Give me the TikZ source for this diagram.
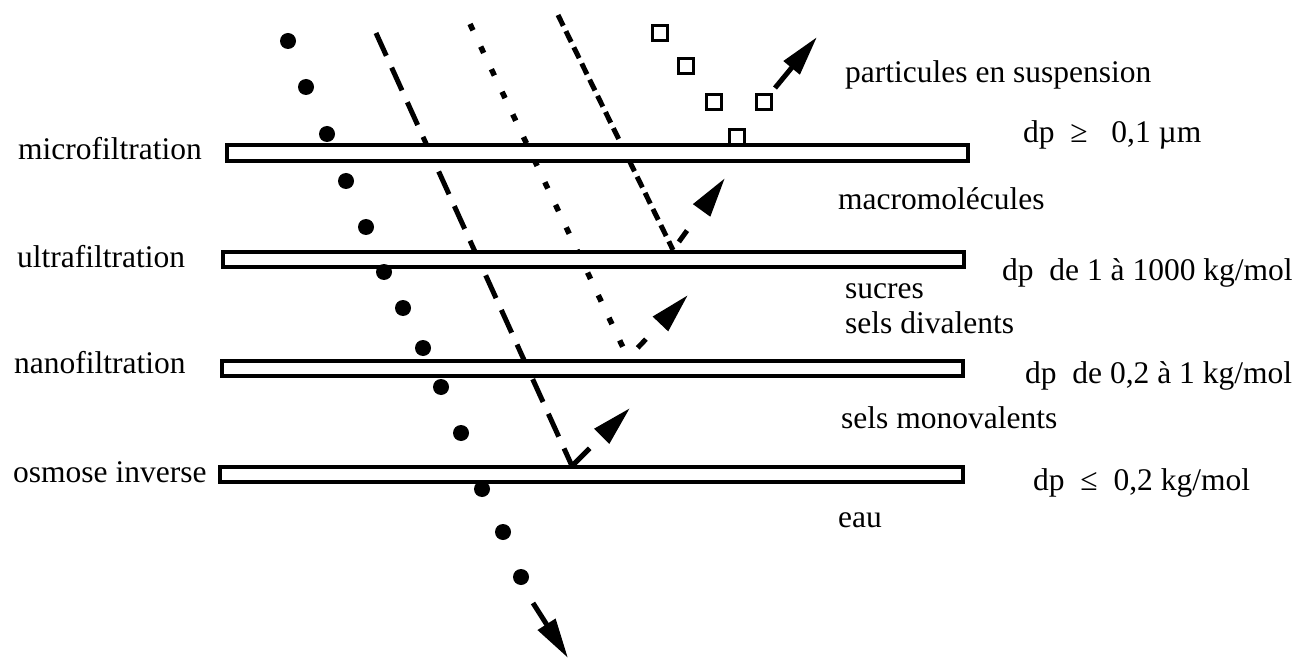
\documentclass[tikz,border=0pt]{standalone}
\usepackage{fontspec}
\setmainfont{Liberation Serif}
\usetikzlibrary{arrows.meta}
\newcommand{\lblfont}{\fontsize{31.5}{36}\selectfont}
\tikzset{
  membrane/.style={draw, line width=3.2pt, fill=white, inner sep=0pt, outer sep=0pt, anchor=north west},
  particle/.style={circle, fill=black, inner sep=0pt, minimum size=16pt},
  squarep/.style={draw, line width=3.4pt, fill=white, inner sep=0pt, minimum size=14.5pt},
  txt/.style={font=\lblfont, anchor=base west, inner sep=0pt},
  arrowhd/.style={-{Triangle[length=40pt,width=20pt]}},
  lineA/.style={line width=5pt, dash pattern=on 25pt off 13pt},
  lineB/.style={line width=5.5pt, dash pattern=on 7pt off 18pt},
  lineC/.style={line width=5pt, dash pattern=on 12pt off 6pt},
}
\begin{document}
\begin{tikzpicture}[x=1pt,y=-1pt]
\useasboundingbox (0,0) rectangle (1316,660);
% path coordinates
\coordinate (a0) at (376,33);  \coordinate (a1) at (572,466); \coordinate (a2) at (630,408);
\coordinate (b0) at (470,24);  \coordinate (b1) at (628,358); \coordinate (b2) at (688,295);
\coordinate (c0) at (558,15);  \coordinate (c1) at (673,250); \coordinate (c2) at (725,178);
\coordinate (t0) at (775,88);  \coordinate (t1) at (817,37);
\coordinate (p0) at (533,603); \coordinate (p1) at (568,658);
% descending lines
\draw[lineA] (a0) -- (a1);
\draw[lineB] (b0) -- (b1);
\draw[lineC] (c0) -- (c1);
% reflected arrows
\draw[line width=5pt, dash pattern=on 25pt off 40pt, arrowhd] (a1) -- (a2);
\draw[line width=5pt, dash pattern=on 0pt off 14pt on 12pt off 40pt, arrowhd] (b1) -- (b2);
\draw[line width=5pt, dash pattern=on 0pt off 10pt on 14pt off 40pt, arrowhd] (c1) -- (c2);
% membranes
\node[membrane, minimum width=741pt, minimum height=16pt] (micro) at (227,145) {};
\node[membrane, minimum width=741pt, minimum height=15pt] (ultra) at (223,252) {};
\node[membrane, minimum width=741pt, minimum height=15pt] (nano)  at (222,361) {};
\node[membrane, minimum width=743pt, minimum height=15pt] (osmo)  at (220,467) {};
% particles
\foreach \n/\x/\y in {1/288/41, 2/306/87, 3/327/134, 4/346/181, 5/366/227, 6/384/272, 7/403/308,
  8/423/348, 9/441/387, 10/461/433, 11/482/489, 12/503/532, 13/521/577}
  \node[particle] (d\n) at (\x,\y) {};
% squares
\node[squarep] (s1) at (660,33) {};
\node[squarep] (s2) at (686,66) {};
\node[squarep] (s3) at (714,102) {};
\node[squarep] (s4) at (764,102) {};
\node[squarep] (s5) at (737,137) {};
% solid arrows
\draw[line width=5pt, arrowhd] (t0) -- (t1);
\draw[line width=5pt, arrowhd] (p0) -- (p1);
% left labels
\node[txt] (lmicro) at (18,160) {microfiltration};
\node[txt] (lultra) at (17,267) {ultrafiltration};
\node[txt] (lnano)  at (14,373) {nanofiltration};
\node[txt] (losmo)  at (13,482) {osmose inverse};
% right labels
\node[txt] (r1) at (845,83)  {particules en suspension};
\node[txt] (r2) at (1023,143) {dp\ \ ≥\ \ \ 0,1 µm};
\node[txt] (r3) at (838,210) {macromolécules};
\node[txt] (r4) at (1002,280) {dp\ \ de 1 à 1000 kg/mol};
\node[txt] (r5) at (845,298) {sucres};
\node[txt] (r6) at (845,333) {sels divalents};
\node[txt] (r7) at (1025,383) {dp\ \ de 0,2 à 1 kg/mol};
\node[txt] (r8) at (841,428) {sels monovalents};
\node[txt] (r9) at (1033,490) {dp\ \ ≤\ \ 0,2 kg/mol};
\node[txt] (r10) at (838,527) {eau};
\end{tikzpicture}
\end{document}
